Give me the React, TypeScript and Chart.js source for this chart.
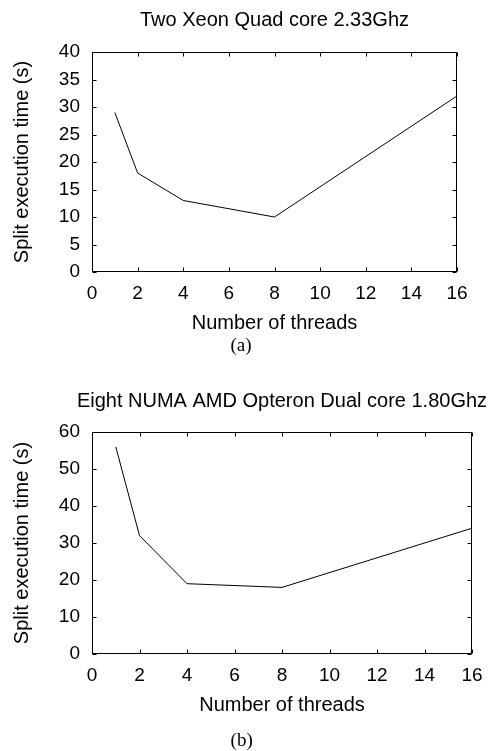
import React, { useEffect, useRef } from 'react';
import { Chart, registerables } from 'chart.js';

Chart.register(...registerables);

// ---- data ----
const threads = [1, 2, 4, 8, 16];
const xeonTimes = [29, 18, 13, 10, 32];
const opteronTimes = [56, 32, 19, 18, 34];
const xTickValues = [0, 2, 4, 6, 8, 10, 12, 14, 16];
const xeonYTicks = [0, 5, 10, 15, 20, 25, 30, 35, 40];
const opteronYTicks = [0, 10, 20, 30, 40, 50, 60];
const titleA = 'Two Xeon Quad core 2.33Ghz';
const titleB = 'Eight NUMA AMD Opteron Dual core 1.80Ghz';
const xAxisTitle = 'Number of threads';
const yAxisTitle = 'Split execution time (s)';
const captionA = '(a)';
const captionB = '(b)';

const SANS = '"Liberation Sans", Arial, Helvetica, sans-serif';
const SERIF = '"Liberation Serif", "Times New Roman", serif';

const framePlugin = {
  id: 'frame',
  afterDatasetsDraw(chart: any, _args: any, opts: any) {
    const { ctx, chartArea: a, scales } = chart;
    const xs = scales.x;
    const ys = scales.y;
    ctx.save();
    ctx.strokeStyle = '#000';
    ctx.lineWidth = 1;
    const l = Math.round(a.left) + 0.5;
    const r = Math.round(a.right) - 0.5;
    const t = Math.round(a.top) + 0.5;
    const b = Math.round(a.bottom) - 0.5;
    ctx.strokeRect(l, t, r - l, b - t);
    const L = 4;
    ctx.beginPath();
    for (const tk of xs.ticks) {
      const px = Math.round(xs.getPixelForValue(tk.value)) + 0.5;
      ctx.moveTo(px, b);
      ctx.lineTo(px, b - L);
      ctx.moveTo(px, t);
      ctx.lineTo(px, t + L);
    }
    for (const tk of ys.ticks) {
      const py = Math.round(ys.getPixelForValue(tk.value)) + 0.5;
      ctx.moveTo(l, py);
      ctx.lineTo(l + L, py);
      ctx.moveTo(r, py);
      ctx.lineTo(r - L, py);
    }
    ctx.stroke();
    ctx.fillStyle = '#000';
    ctx.textAlign = 'center';
    ctx.textBaseline = 'middle';
    ctx.font = `20px ${SANS}`;
    ctx.fillText(opts.title, (a.left + a.right) / 2, opts.titleY);
    ctx.font = `19px ${SERIF}`;
    ctx.fillText(opts.caption, opts.captionX, opts.captionY);
    ctx.restore();
  },
};

type PanelProps = {
  top: number;
  height: number;
  padTop: number;
  padRight: number;
  padBottom: number;
  xScaleHeight: number;
  xTitlePadBottom: number;
  titleY: number;
  captionX: number;
  captionY: number;
  title: string;
  caption: string;
  values: number[];
  yTicks: number[];
};

function Panel(p: PanelProps) {
  const ref = useRef<HTMLCanvasElement | null>(null);
  useEffect(() => {
    if (!ref.current) return;
    const yMin = p.yTicks[0];
    const yMax = p.yTicks[p.yTicks.length - 1];
    const chart = new Chart(ref.current, {
      type: 'line',
      data: {
        datasets: [
          {
            data: threads.map((t, i) => ({ x: t, y: p.values[i] })),
            borderColor: '#000',
            borderWidth: 1,
            pointRadius: 0,
            tension: 0,
            fill: false,
          },
        ],
      },
      plugins: [framePlugin as any],
      options: {
        responsive: false,
        animation: false,
        devicePixelRatio: 1,
        layout: { padding: { top: p.padTop, right: p.padRight, bottom: p.padBottom, left: 0 } },
        plugins: {
          legend: { display: false },
          tooltip: { enabled: false },
          title: { display: false },
          frame: { title: p.title, titleY: p.titleY, caption: p.caption, captionX: p.captionX, captionY: p.captionY },
        } as any,
        scales: {
          x: {
            type: 'linear',
            min: xTickValues[0],
            max: xTickValues[xTickValues.length - 1],
            grid: { display: false, drawTicks: false },
            border: { display: false },
            afterBuildTicks: (s: any) => {
              s.ticks = xTickValues.map((v) => ({ value: v }));
            },
            afterFit: (s: any) => {
              s.height = p.xScaleHeight;
            },
            ticks: {
              autoSkip: false,
              maxRotation: 0,
              padding: 10,
              color: '#000',
              font: { family: SANS, size: 19 },
            },
            title: {
              display: true,
              text: xAxisTitle,
              color: '#000',
              font: { family: SANS, size: 20 },
              padding: { top: 0, bottom: p.xTitlePadBottom },
            },
          },
          y: {
            type: 'linear',
            min: yMin,
            max: yMax,
            grid: { display: false, drawTicks: false },
            border: { display: false },
            afterBuildTicks: (s: any) => {
              s.ticks = p.yTicks.map((v) => ({ value: v }));
            },
            afterFit: (s: any) => {
              s.width = 92;
            },
            ticks: {
              autoSkip: false,
              padding: 12,
              color: '#000',
              font: { family: SANS, size: 19 },
            },
            title: {
              display: true,
              text: yAxisTitle,
              color: '#000',
              font: { family: SANS, size: 20 },
              padding: { top: 10, bottom: 0 },
            },
          },
        },
      } as any,
    });
    return () => chart.destroy();
  }, []);
  return (
    <canvas
      ref={ref}
      width={493}
      height={p.height}
      style={{ position: 'absolute', left: 0, top: p.top, width: 493, height: p.height, display: 'block' }}
    />
  );
}

export default function App() {
  return (
    <div style={{ position: 'absolute', left: 0, top: 0, width: 493, height: 751, background: '#fff', overflow: 'hidden' }}>
      <Panel
        top={0}
        height={360}
        padTop={52}
        padRight={36}
        padBottom={20}
        xScaleHeight={68}
        xTitlePadBottom={5}
        titleY={20}
        captionX={241}
        captionY={345.7}
        title={titleA}
        caption={captionA}
        values={xeonTimes}
        yTicks={xeonYTicks}
      />
      <Panel
        top={370}
        height={381}
        padTop={62}
        padRight={21}
        padBottom={31}
        xScaleHeight={66}
        xTitlePadBottom={3}
        titleY={31.7}
        captionX={241.7}
        captionY={371}
        title={titleB}
        caption={captionB}
        values={opteronTimes}
        yTicks={opteronYTicks}
      />
    </div>
  );
}
